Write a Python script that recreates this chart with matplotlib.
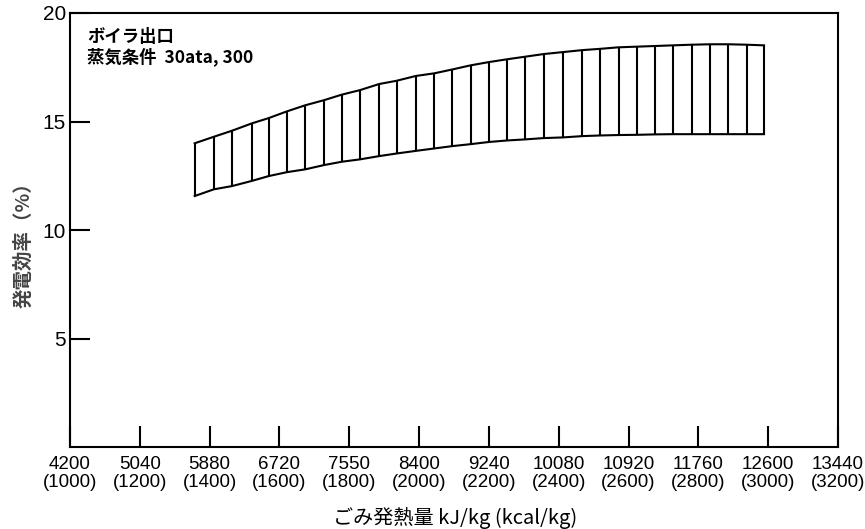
import numpy as np
import matplotlib
matplotlib.use("Agg")
import matplotlib.pyplot as plt

# heating value of refuse (kJ/kg) at each hatch line, with band limits (%)
band_x = [5700, 5930, 6150, 6390, 6590, 6810, 7030, 7260, 7470, 7690,
          7920, 8130, 8360, 8580, 8800, 9020, 9240, 9460, 9680, 9900,
          10130, 10360, 10580, 10800, 11020, 11240, 11450, 11680, 11900, 12120,
          12340, 12550]
band_upper = [14.00, 14.30, 14.58, 14.92, 15.16, 15.47, 15.75, 15.99, 16.24, 16.45,
              16.73, 16.88, 17.10, 17.22, 17.40, 17.59, 17.74, 17.87, 17.99, 18.11,
              18.20, 18.29, 18.35, 18.42, 18.45, 18.48, 18.51, 18.54, 18.56, 18.56,
              18.54, 18.51]
band_lower = [11.57, 11.88, 12.03, 12.27, 12.49, 12.67, 12.80, 13.00, 13.15, 13.26,
              13.41, 13.53, 13.65, 13.76, 13.87, 13.96, 14.06, 14.13, 14.18, 14.24,
              14.27, 14.33, 14.36, 14.38, 14.39, 14.41, 14.42, 14.42, 14.42, 14.42,
              14.42, 14.42]

kj_ticks = [4200, 5040, 5880, 6720, 7560, 8400, 9240, 10080, 10920, 11760, 12600, 13440]
kj_labels = ['4200', '5040', '5880', '6720', '7550', '8400', '9240', '10080',
             '10920', '11760', '12600', '13440']
kcal_labels = ['1000', '1200', '1400', '1600', '1800', '2000', '2200', '2400',
               '2600', '2800', '3000', '3200']
y_ticks = [5, 10, 15, 20]

jp = ['Noto Sans CJK JP', 'DejaVu Sans']
latin = ['Liberation Sans', 'DejaVu Sans']

fig = plt.figure(figsize=(8.65, 5.29), dpi=100)
ax = fig.add_axes([70 / 865, 1 - 447.3 / 529, 768 / 865, 434.3 / 529])

lw = 1.5
x = np.array(band_x)
up = np.array(band_upper)
lo = np.array(band_lower)
ax.plot(x, up, color='black', lw=lw)
ax.plot(x, lo, color='black', lw=lw)
ax.vlines(x, lo, up, color='black', lw=lw)

ax.set_xlim(4200, 13440)
ax.set_ylim(0, 20)

ax.set_xticks(kj_ticks)
ax.set_xticklabels([a + '\n(' + b + ')' for a, b in zip(kj_labels, kcal_labels)],
                   family=latin, fontsize=13.5, linespacing=1.1)
ax.set_yticks(y_ticks)
ax.set_yticklabels([str(v) for v in y_ticks], family=latin, fontsize=15)
ax.tick_params(axis='x', direction='in', length=15, width=lw, pad=6)
ax.tick_params(axis='y', direction='in', length=14.5, width=lw, pad=3)
for s in ax.spines.values():
    s.set_linewidth(lw)

ax.text(0.022, 0.965, 'ボイラ出口\n蒸気条件  30ata, 300', transform=ax.transAxes,
        ha='left', va='top', family=jp, fontsize=12.5, fontweight='bold',
        linespacing=1.1)

fig.text(455 / 865, 1 - 518 / 529, 'ごみ発熱量 kJ/kg (kcal/kg)', ha='center',
         va='center', family=jp, fontsize=14.5)
fig.text(24 / 865, 1 - 240 / 529, '発電効率（%）', ha='center', va='center',
         rotation=90, family=jp, fontsize=14, fontweight='bold', color='#444444')

fig.savefig('out.png', dpi=100)
